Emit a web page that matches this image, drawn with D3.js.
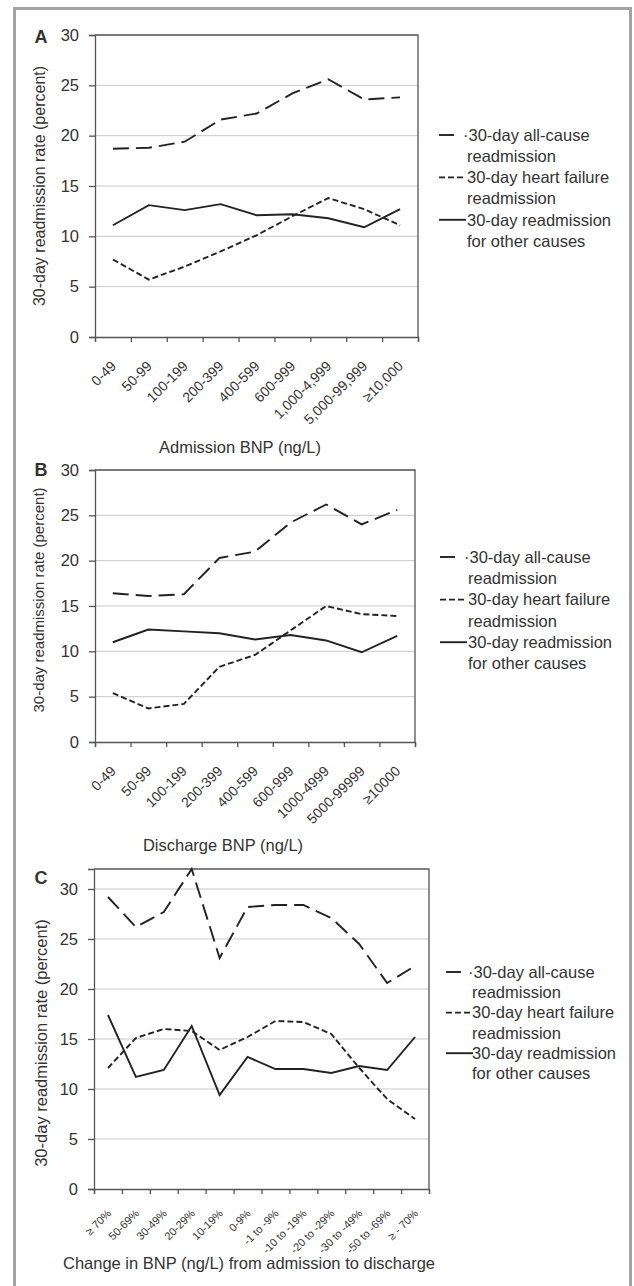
<!DOCTYPE html>
<html>
<head>
<meta charset="utf-8">
<script src="https://cdn.jsdelivr.net/npm/d3@7"></script>
<style>
  body { margin: 0; background: #fff; }
  svg text { font-family: "Liberation Sans", Arial, sans-serif; fill: #333; }
</style>
</head>
<body>
<svg id="chart" width="634" height="1286"></svg>
<script>
// panel A - admission BNP
const catsA = ['0-49', '50-99', '100-199', '200-399', '400-599', '600-999', '1,000-4,999', '5,000-99,999', '≥10,000'];
const allCauseA = [18.7, 18.8, 19.4, 21.6, 22.2, 24.2, 25.6, 23.6, 23.8];
const heartFailA = [7.7, 5.7, 7.0, 8.5, 10.1, 12.0, 13.8, 12.7, 11.1];
const otherA = [11.1, 13.1, 12.6, 13.2, 12.1, 12.2, 11.8, 10.9, 12.7];

// panel B - discharge BNP
const catsB = ['0-49', '50-99', '100-199', '200-399', '400-599', '600-999', '1000-4999', '5000-99999', '≥10000'];
const allCauseB = [16.4, 16.1, 16.3, 20.3, 21.0, 24.2, 26.2, 24.0, 25.6];
const heartFailB = [5.4, 3.7, 4.2, 8.3, 9.6, 12.3, 15.0, 14.1, 13.9];
const otherB = [11.0, 12.4, 12.2, 12.0, 11.3, 11.8, 11.2, 9.9, 11.7];

// panel C - change in BNP
const catsC = ['≥ 70%', '50-69%', '30-49%', '20-29%', '10-19%', '0-9%', '-1 to -9%', '-10 to -19%', '-20 to -29%', '-30 to -49%', '-50 to -69%', '≥ - 70%'];
const allCauseC = [29.2, 26.2, 27.7, 32.0, 23.1, 28.2, 28.4, 28.4, 27.1, 24.5, 20.6, 22.3];
const heartFailC = [12.1, 15.1, 16.0, 15.8, 13.9, 15.2, 16.8, 16.7, 15.5, 12.1, 9.0, 7.0];
const otherC = [17.4, 11.2, 11.9, 16.3, 9.4, 13.2, 12.0, 12.0, 11.6, 12.3, 11.9, 15.2];

const yTicks = [0, 5, 10, 15, 20, 25, 30];
const legendLines = [
    ['·30-day all-cause', 'readmission'],
    ['30-day heart failure', 'readmission'],
    ['30-day readmission', 'for other causes']
];
const dashes = ['16,7', '6,3', null];

const svg = d3.select('#chart');

// outer frame
svg.append('rect')
    .attr('x', 14.5).attr('y', 8.5)
    .attr('width', 616).attr('height', 1290)
    .attr('fill', 'none')
    .attr('stroke', '#a3a3a3')
    .attr('stroke-width', 3);

function drawPanel(p) {
    const g = svg.append('g');
    const n = p.cats.length;
    const x = d3.scaleBand().domain(p.cats).range([p.left, p.right]);
    const xi = d3.scaleLinear().domain([0, n]).range([p.left, p.right]);
    const y = d3.scaleLinear().domain([0, p.yMax]).range([p.bottom, p.top]);
    const cx = c => x(c) + x.bandwidth() / 2;

    // gridlines
    g.selectAll('.grid')
        .data(yTicks.filter(t => t > 0))
        .enter().append('line')
        .attr('x1', p.left).attr('x2', p.right)
        .attr('y1', d => y(d)).attr('y2', d => y(d))
        .attr('stroke', '#c9c9c9').attr('stroke-width', 1);

    // box top + right
    g.append('path')
        .attr('d', `M${p.left},${y(p.yMax)}H${p.right}V${p.bottom}`)
        .attr('fill', 'none').attr('stroke', '#555').attr('stroke-width', 1.3);

    // y axis
    const yAxis = g.append('g')
        .attr('transform', `translate(${p.left},0)`)
        .call(d3.axisLeft(y).tickValues(yTicks).tickSize(6).tickPadding(10));
    yAxis.selectAll('line, path').attr('stroke', '#555').attr('stroke-width', 1.3);
    yAxis.selectAll('text')
        .style('font-size', p.tickFont + 'px')
        .style('font-family', '"Liberation Sans", Arial, sans-serif')
        .attr('fill', '#333');

    // x axis, ticks between categories
    const xAxis = g.append('g')
        .attr('transform', `translate(0,${p.bottom})`)
        .call(d3.axisBottom(xi).tickValues(d3.range(n + 1)).tickSize(5).tickFormat(''));
    xAxis.selectAll('line, path').attr('stroke', '#555').attr('stroke-width', 1.3);

    g.selectAll('.xlab')
        .data(p.cats)
        .enter().append('text')
        .attr('transform', d => `translate(${cx(d) + p.labDx},${p.bottom + p.labDy}) rotate(-45)`)
        .attr('text-anchor', 'end')
        .style('font-size', p.labFont + 'px')
        .text(d => d);

    // series
    const line = d3.line().x((d, i) => cx(p.cats[i])).y(d => y(d));
    p.series.forEach((s, k) => {
        g.append('path')
            .datum(s)
            .attr('d', line)
            .attr('fill', 'none')
            .attr('stroke', '#222')
            .attr('stroke-width', 1.9)
            .attr('stroke-dasharray', dashes[k]);
    });

    // axis titles
    g.append('text')
        .attr('transform', `translate(${p.yTitleX},${p.yTitleY}) rotate(-90)`)
        .attr('text-anchor', 'middle')
        .attr('dy', '0.35em')
        .style('font-size', p.yTitleFont + 'px')
        .text('30-day readmission rate (percent)');
    g.append('text')
        .attr('x', p.xTitleX).attr('y', p.xTitleY)
        .attr('text-anchor', 'middle')
        .attr('dy', '0.35em')
        .style('font-size', '16.5px')
        .text(p.xTitle);

    // panel letter
    g.append('text')
        .attr('x', 41).attr('y', p.letterY)
        .attr('text-anchor', 'middle')
        .attr('dy', '0.35em')
        .style('font-size', '18px')
        .style('font-weight', 'bold')
        .attr('fill', '#111')
        .text(p.letter);

    // legend
    legendLines.forEach((rows, k) => {
        const ly = p.legY + k * 2 * p.legStep;
        g.append('line')
            .attr('x1', p.legX).attr('x2', p.legX + 24 + (k === 2 ? 3 : 0))
            .attr('y1', ly).attr('y2', ly)
            .attr('stroke', '#222').attr('stroke-width', 1.9)
            .attr('stroke-dasharray', k === 0 ? '15,30' : dashes[k]);
        rows.forEach((r, j) => {
            g.append('text')
                .attr('x', p.legTextX + (k === 0 && j === 0 ? -4 : 0))
                .attr('y', ly + j * p.legStep)
                .attr('dy', '0.35em')
                .style('font-size', '16.5px')
                .text(r);
        });
    });
}

drawPanel({
    letter: 'A', letterY: 37,
    cats: catsA, series: [allCauseA, heartFailA, otherA],
    left: 95, right: 418, top: 35, bottom: 337, yMax: 30,
    tickFont: 16.5, labFont: 14, labDx: 4, labDy: 30,
    yTitleX: 39, yTitleY: 186, yTitleFont: 16,
    xTitle: 'Admission BNP (ng/L)', xTitleX: 240, xTitleY: 447,
    legX: 439, legTextX: 467, legY: 135, legStep: 21.2
});

drawPanel({
    letter: 'B', letterY: 470,
    cats: catsB, series: [allCauseB, heartFailB, otherB],
    left: 95, right: 415, top: 470, bottom: 742, yMax: 30,
    tickFont: 16.5, labFont: 14, labDx: 4, labDy: 30,
    yTitleX: 39, yTitleY: 600, yTitleFont: 15,
    xTitle: 'Discharge BNP (ng/L)', xTitleX: 223, xTitleY: 845,
    legX: 440, legTextX: 468, legY: 557, legStep: 21.3
});

drawPanel({
    letter: 'C', letterY: 878,
    cats: catsC, series: [allCauseC, heartFailC, otherC],
    left: 94, right: 429, top: 869, bottom: 1189, yMax: 32,
    tickFont: 16.5, labFont: 11, labDx: 4, labDy: 25,
    yTitleX: 41, yTitleY: 1043, yTitleFont: 16.5,
    xTitle: 'Change in BNP (ng/L) from admission to discharge', xTitleX: 249, xTitleY: 1263,
    legX: 446, legTextX: 472, legY: 972, legStep: 20.3
});
</script>
</body>
</html>
